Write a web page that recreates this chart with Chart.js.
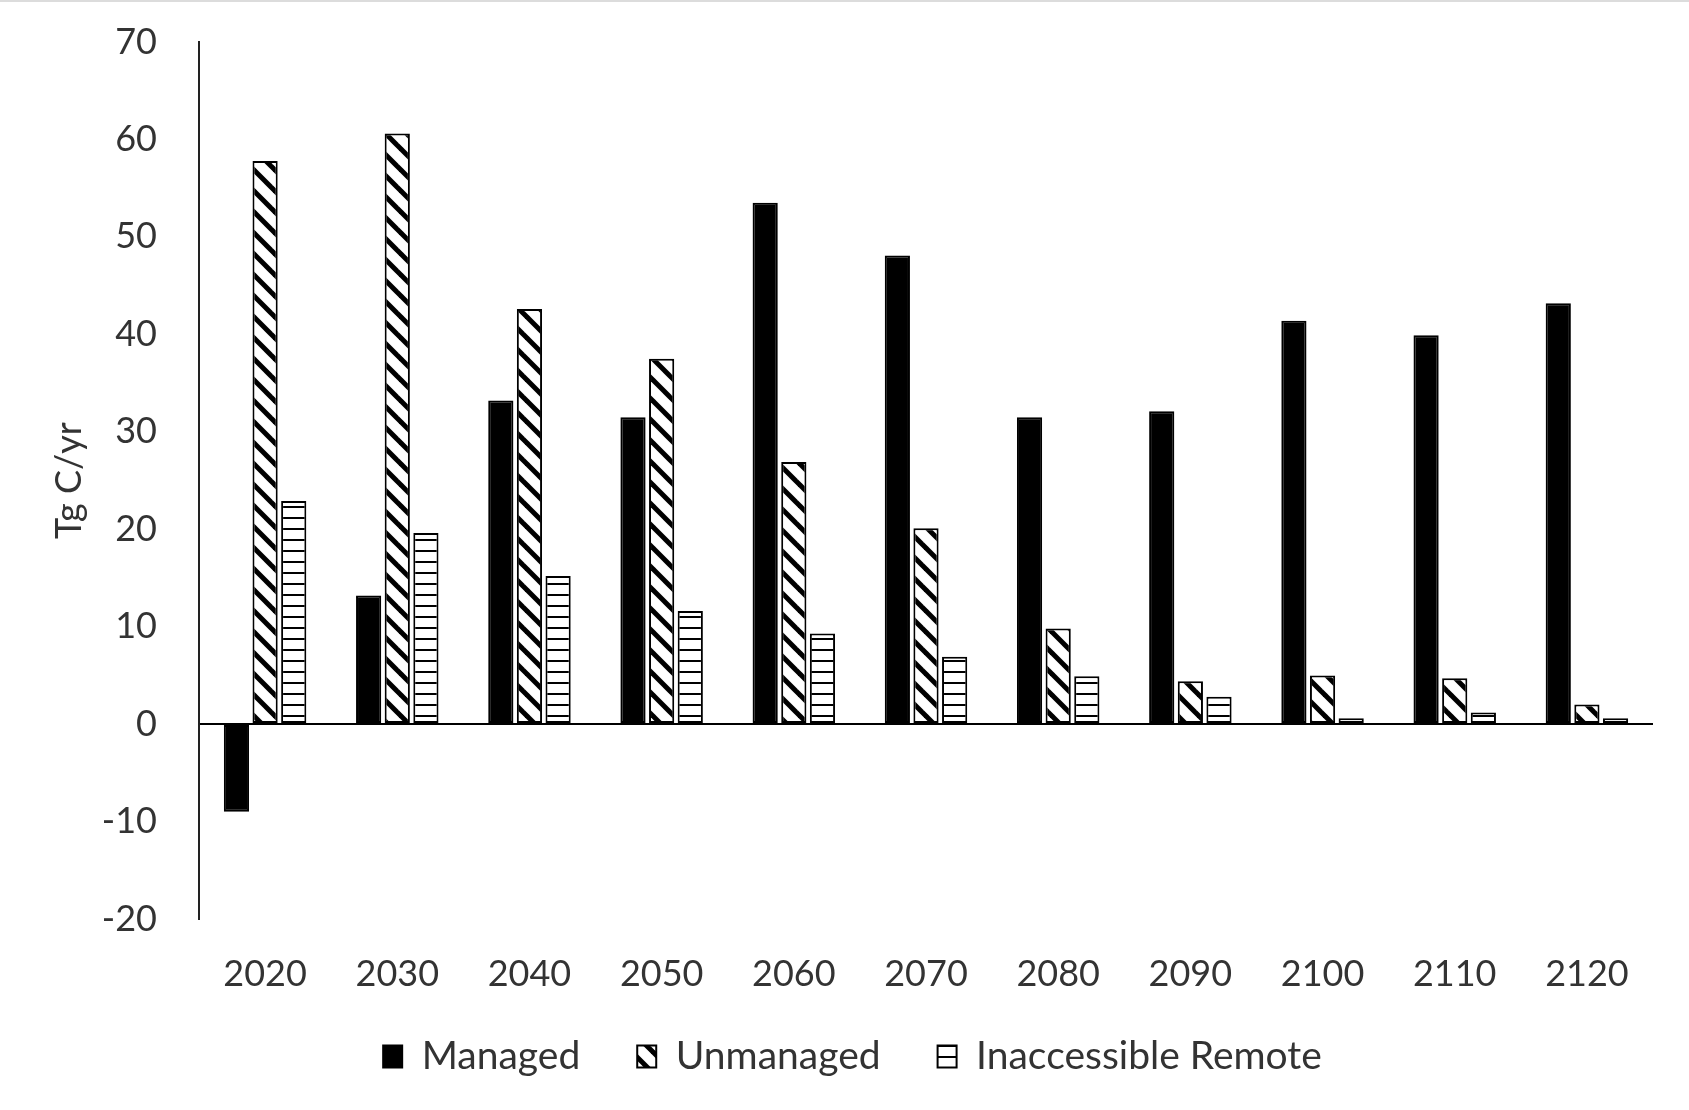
<!DOCTYPE html>
<html>
<head>
<meta charset="utf-8">
<title>Carbon flux by forest category</title>
<script src="https://cdn.jsdelivr.net/npm/chart.js@4.4.1/dist/chart.umd.min.js"></script>
<style>
  html, body { margin: 0; padding: 0; background: #fff; }
  #wrap { position: relative; width: 1689px; height: 1110px; }
  #topline { position: absolute; left: 0; top: 0; width: 1689px; height: 2px; background: #dcdcdc; }
  canvas { display: block; }
</style>
</head>
<body>
<div id="wrap">
  <canvas id="chart" width="1689" height="1110"></canvas>
  <div id="topline"></div>
</div>
<script>
// Decades on the x axis
const years = ['2020', '2030', '2040', '2050', '2060', '2070', '2080', '2090', '2100', '2110', '2120'];

// Net carbon flux per category (Tg C/yr)
const managed      = [-9.0, 13.2, 33.2, 31.5, 53.5, 48.1, 31.5, 32.1, 41.4, 39.9, 43.2];
const unmanaged    = [57.8, 60.6, 42.6, 37.5, 26.9, 20.1,  9.8,  4.4,  5.0,  4.7,  2.0];
const inaccessible = [22.9, 19.6, 15.2, 11.6,  9.3,  6.9,  4.9,  2.8,  0.6,  1.2,  0.6];

const seriesNames = ['Managed', 'Unmanaged', 'Inaccessible Remote'];

// Value axis range
const yMin = -20;
const yMax = 70;
const yStep = 10;

const FONT = 'Lato, "Open Sans", sans-serif';
const TEXT = '#333333';

// Wide downward diagonal hatch
function diagonalPattern() {
  const s = 21;
  const c = document.createElement('canvas');
  c.width = s; c.height = s;
  const g = c.getContext('2d');
  g.fillStyle = '#fff';
  g.fillRect(0, 0, s, s);
  g.strokeStyle = '#000';
  g.lineWidth = 5;
  g.lineCap = 'square';
  for (let k = -1; k <= 1; k++) {
    g.beginPath();
    g.moveTo(k * s - 4, -4);
    g.lineTo(k * s + s + 4, s + 4);
    g.stroke();
  }
  return g.createPattern(c, 'repeat');
}

// Horizontal line hatch
function horizontalPattern() {
  const s = 11;
  const c = document.createElement('canvas');
  c.width = 4; c.height = s;
  const g = c.getContext('2d');
  g.fillStyle = '#fff';
  g.fillRect(0, 0, 4, s);
  g.fillStyle = '#000';
  g.fillRect(0, 0, 4, 2);
  return g.createPattern(c, 'repeat');
}

const fills = ['#000000', diagonalPattern(), horizontalPattern()];
const values = [managed, unmanaged, inaccessible];

const datasets = seriesNames.map((name, i) => ({
  label: name,
  data: values[i],
  backgroundColor: fills[i],
  borderColor: '#000',
  borderWidth: 2,
  borderSkipped: false,
  categoryPercentage: 0.65,
  barPercentage: 0.88
}));

// Move the legend row after layout
const legendShift = {
  id: 'legendShift',
  afterLayout(chart) {
    const dx = 26;
    const dy = -19;
    const lg = chart.legend;
    if (lg) {
      lg.left += dx;
      lg.right += dx;
      lg.top += dy;
      lg.bottom += dy;
    }
  }
};

new Chart(document.getElementById('chart'), {
  type: 'bar',
  data: { labels: years, datasets },
  plugins: [legendShift],
  options: {
    responsive: false,
    animation: false,
    devicePixelRatio: 1,
    layout: { padding: { left: 0, right: 36, top: 42, bottom: 5 } },
    plugins: {
      tooltip: { enabled: false },
      legend: {
        position: 'bottom',
        labels: {
          boxWidth: 19,
          boxHeight: 22,
          padding: 57,
          color: TEXT,
          font: { family: FONT, size: 39 }
        }
      }
    },
    scales: {
      x: {
        grid: { display: false, drawTicks: false },
        border: { display: false },
        ticks: { color: TEXT, font: { family: FONT, size: 36 }, padding: 34, maxRotation: 0 },
        afterFit(scale) { scale.height = 80; }
      },
      y: {
        min: yMin,
        max: yMax,
        grid: {
          drawTicks: false,
          lineWidth: 2,
          color: ctx => (ctx.tick && ctx.tick.value === 0 ? '#000' : 'rgba(0,0,0,0)')
        },
        border: { display: true, color: '#222', width: 2 },
        ticks: {
          stepSize: yStep,
          color: TEXT,
          padding: 42,
          font: { family: FONT, size: 36 }
        },
        title: {
          display: true,
          text: 'Tg C/yr',
          color: TEXT,
          font: { family: FONT, size: 36 },
          padding: { top: 48, bottom: 0 }
        },
        afterFit(scale) {
          scale.width = 199;
          scale.paddingTop = 20;
          scale.paddingBottom = 20;
        }
      }
    }
  }
});
</script>
</body>
</html>
